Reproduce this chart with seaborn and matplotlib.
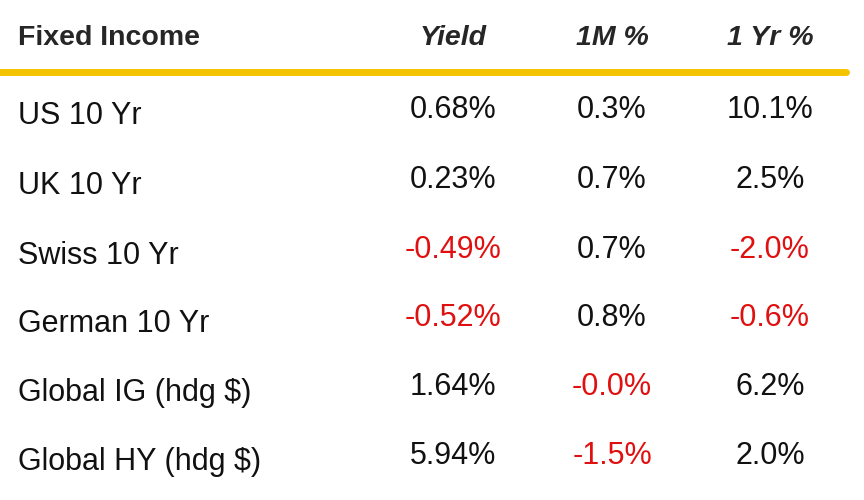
import matplotlib.pyplot as plt
import seaborn as sns

sns.set_theme(style='white')
plt.rcParams['font.family'] = ['Liberation Sans', 'DejaVu Sans']

headers = ['Fixed Income', 'Yield', '1M %', '1 Yr %']
names = ['US 10 Yr', 'UK 10 Yr', 'Swiss 10 Yr', 'German 10 Yr',
         'Global IG (hdg $)', 'Global HY (hdg $)']
yields = [0.68, 0.23, -0.49, -0.52, 1.64, 5.94]
one_month = [0.3, 0.7, 0.7, 0.8, -0.01, -1.5]
one_year = [10.1, 2.5, -2.0, -0.6, 6.2, 2.0]

fig = plt.figure(figsize=(8.64, 5.0), dpi=100)
ax = fig.add_axes([0, 0, 1, 1])
ax.set_xlim(0, 864)
ax.set_ylim(500, 0)
ax.axis('off')

col_x = [18, 453, 612, 770]
ax.text(col_x[0], 38, headers[0], fontsize=20.5, fontweight='bold', va='center', ha='left')
for x, h in zip(col_x[1:], headers[1:]):
    ax.text(x, 38, h, fontsize=20.5, fontweight='bold', style='italic', va='center', ha='center')

sns.lineplot(x=[0, 846], y=[72, 72], ax=ax, color='#F5C400', linewidth=5)

red = '#E01010'
row_y = [116, 186, 256, 324, 393, 462]
for y, n, a, b, c in zip(row_y, names, yields, one_month, one_year):
    ax.text(col_x[0], y, n, fontsize=22, va='center', ha='left', color='#111111')
    for x, v, fmt in [(col_x[1], a, '{:.2f}%'), (col_x[2], b, '{:.1f}%'), (col_x[3], c, '{:.1f}%')]:
        s = fmt.format(v)
        ax.text(x, y - 6, s, fontsize=22, va='center', ha='center',
                color=red if v < 0 else '#111111')

fig.savefig('out.png', dpi=100)
